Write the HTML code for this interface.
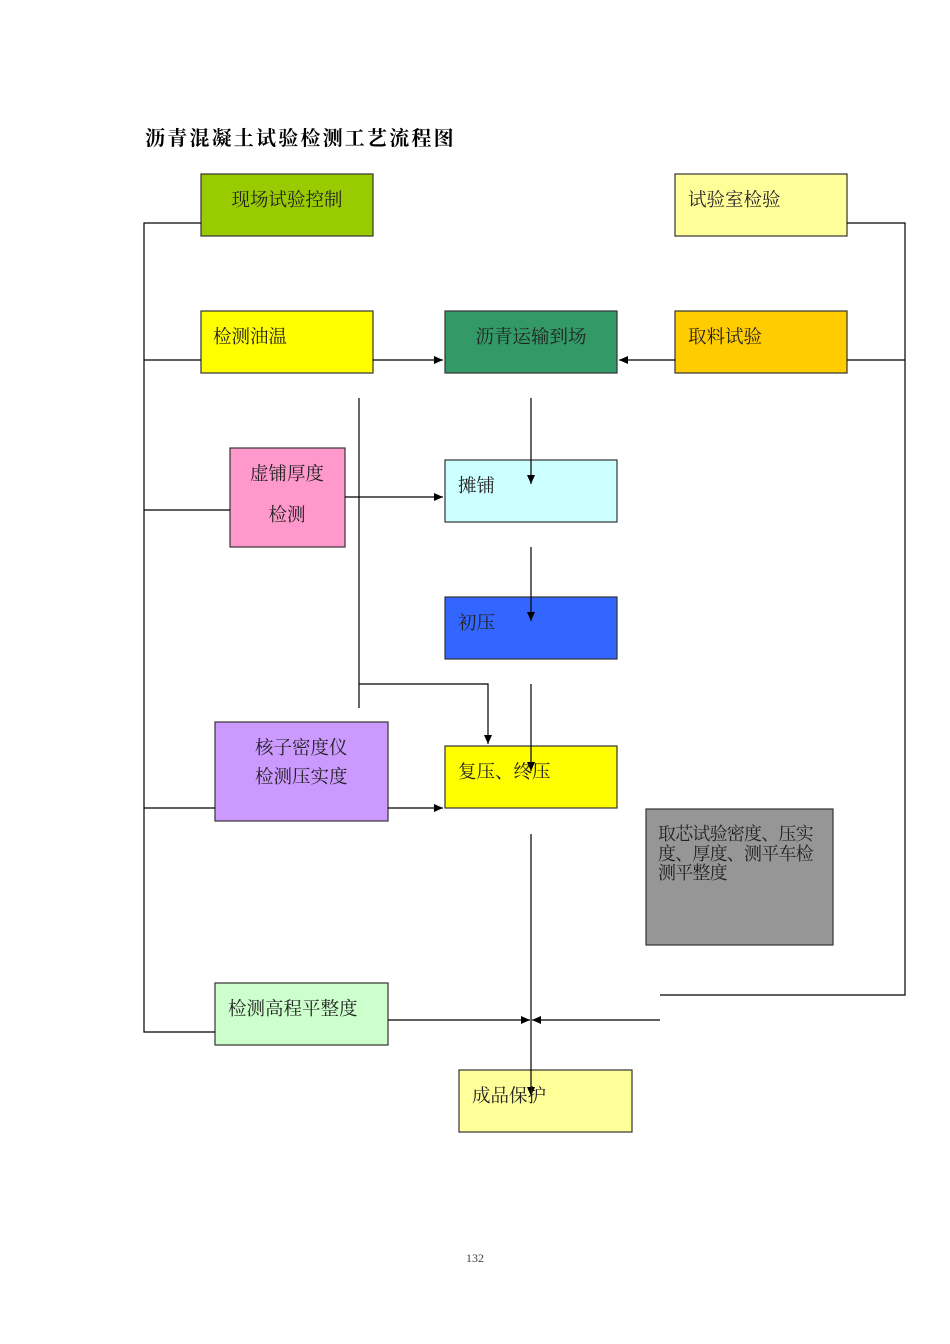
<!DOCTYPE html>
<html><head><meta charset="utf-8"><style>
body{margin:0;background:#fff}
svg{display:block}
text{font-family:"Liberation Serif","Noto Serif CJK SC","Noto Sans CJK SC",serif;font-size:18.5px;fill:#222}
</style></head><body>
<svg width="950" height="1344" viewBox="0 0 950 1344" xmlns="http://www.w3.org/2000/svg">
<defs><marker id="a" markerWidth="10" markerHeight="10" refX="9" refY="4" orient="auto" markerUnits="userSpaceOnUse"><path d="M0,0 L9,4 L0,8 z" fill="#000"/></marker></defs>
<text x="145" y="145" style="font-size:20px;letter-spacing:2.2px;font-weight:bold;fill:#000;font-family:'Noto Serif CJK SC','Noto Sans CJK SC',serif">沥青混凝土试验检测工艺流程图</text>
<g stroke="#333" stroke-width="1.2">
<rect x="201" y="174" width="172" height="62" fill="#99cc00"/>
<rect x="675" y="174" width="172" height="62" fill="#ffff99"/>
<rect x="201" y="311" width="172" height="62" fill="#ffff00"/>
<rect x="445" y="311" width="172" height="62" fill="#339966"/>
<rect x="675" y="311" width="172" height="62" fill="#ffcc00"/>
<rect x="230" y="448" width="115" height="99" fill="#ff99cc"/>
<rect x="445" y="460" width="172" height="62" fill="#ccffff"/>
<rect x="445" y="597" width="172" height="62" fill="#3366ff"/>
<rect x="215" y="722" width="173" height="99" fill="#cc99ff"/>
<rect x="445" y="746" width="172" height="62" fill="#ffff00"/>
<rect x="646" y="809" width="187" height="136" fill="#969696"/>
<rect x="215" y="983" width="173" height="62" fill="#ccffcc"/>
<rect x="459" y="1070" width="173" height="62" fill="#ffff99"/>
</g>
<g stroke="#000" stroke-width="1.2" fill="none">
<path d="M201,223H144V1032H215M144,360H201M144,510H230M144,808H215"/>
<path d="M847,223H905V995H660M847,360H905"/>
<path d="M359,398V708M359,684H488V744" marker-end="url(#a)"/>
<path d="M373,360H443" marker-end="url(#a)"/>
<path d="M675,360H619" marker-end="url(#a)"/>
<path d="M345,497H443" marker-end="url(#a)"/>
<path d="M531,398V484" marker-end="url(#a)"/>
<path d="M531,547V621" marker-end="url(#a)"/>
<path d="M531,684V771" marker-end="url(#a)"/>
<path d="M388,808H443" marker-end="url(#a)"/>
<path d="M531,834V1096" marker-end="url(#a)"/>
<path d="M388,1020H530" marker-end="url(#a)"/>
<path d="M660,1020H532" marker-end="url(#a)"/>
</g>
<text x="287" y="206" text-anchor="middle">现场试验控制</text>
<text x="688" y="206">试验室检验</text>
<text x="213" y="343">检测油温</text>
<text x="531" y="343" text-anchor="middle">沥青运输到场</text>
<text x="688" y="343">取料试验</text>
<text x="287" y="480" text-anchor="middle">虚铺厚度</text>
<text x="287" y="521" text-anchor="middle">检测</text>
<text x="458" y="492">摊铺</text>
<text x="458" y="629">初压</text>
<text x="255" y="754">核子密度仪</text>
<text x="255" y="783">检测压实度</text>
<text x="458" y="778">复压、终压</text>
<text x="658" y="840" style="font-size:18px;letter-spacing:-0.8px">取芯试验密度、压实</text>
<text x="658" y="860" style="font-size:18px;letter-spacing:-0.8px">度、厚度、测平车检</text>
<text x="658" y="879" style="font-size:18px;letter-spacing:-0.8px">测平整度</text>
<text x="228" y="1015">检测高程平整度</text>
<text x="472" y="1102">成品保护</text>
<text x="475" y="1262" text-anchor="middle" style="font-size:12px;fill:#444">132</text>
</svg>
</body></html>
